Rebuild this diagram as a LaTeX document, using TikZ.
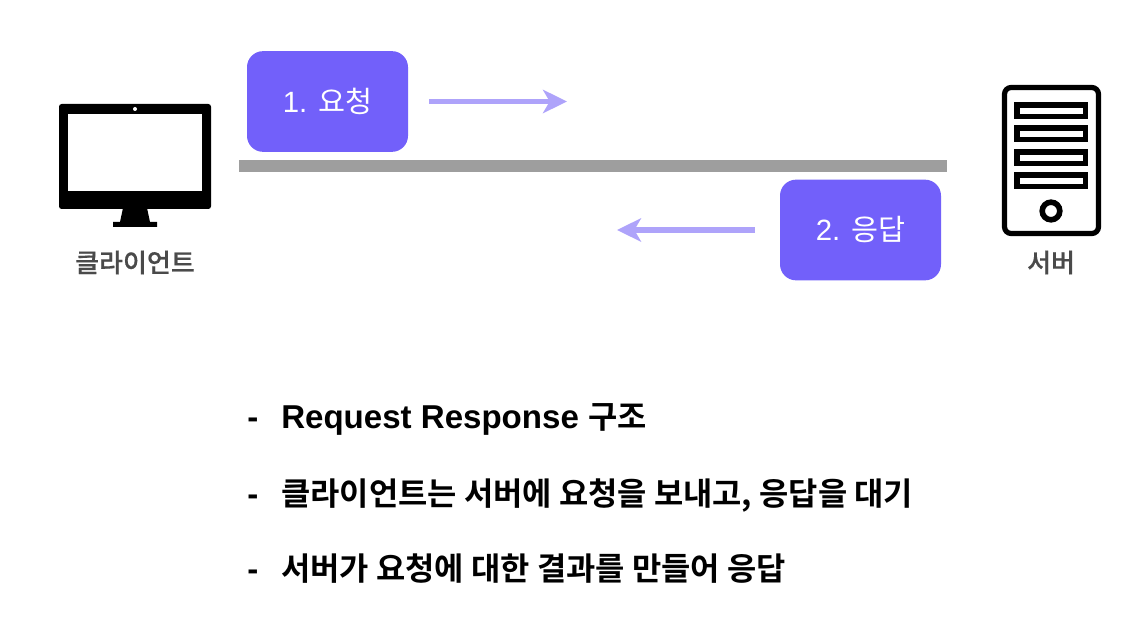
\documentclass[tikz,border=0pt]{standalone}
\usepackage{fontspec}
\setmainfont{Liberation Sans}
\newfontfamily\korfont{Noto Sans CJK KR}
\newfontfamily\korbold[Scale=0.962,BoldFont={Noto Sans CJK KR Bold}]{Noto Sans CJK KR}
\newfontfamily\kormedium[FakeBold=0.5]{Noto Sans CJK KR Medium}
\usetikzlibrary{arrows.meta}
\definecolor{boxviolet}{HTML}{7260FA}
\definecolor{arrowviolet}{HTML}{AEA3FA}
\definecolor{bargray}{HTML}{9E9E9E}
\definecolor{labelgray}{HTML}{4A4A4A}
\tikzset{
    stepbox/.style={rectangle, fill=boxviolet, rounded corners=12pt, minimum width=120.75pt, minimum height=75.5pt, text=white, font=\fontsize{22pt}{26pt}\selectfont},
    flowarrow/.style={-{Stealth[length=18pt,width=17.5pt,inset=5pt]}, line width=4.2pt, arrowviolet},
    devlabel/.style={text=labelgray, font=\fontsize{19.5pt}{23pt}\selectfont},
    bullettext/.style={anchor=base west, inner sep=0pt, font=\fontsize{24.8pt}{28pt}\selectfont\bfseries}
}

\begin{document}
\begin{tikzpicture}[x=0.75pt,y=-0.75pt]
        \useasboundingbox (0,0) rectangle (1148,630);
        % boxes
        \node[stepbox] (req) at (327.5,101.5) {1. {\korfont 요청}};
        \node[stepbox] (res) at (860.5,230) {2. {\korfont 응답}};
        \fill[bargray] (239,160) rectangle (947,172);
        % arrows
        \coordinate (reqtail) at (429,101.5);
        \coordinate (reqtip) at (567,101.5);
        \coordinate (restail) at (755,230);
        \coordinate (restip) at (617,230);
        \draw[flowarrow] (reqtail) -- (reqtip);
        \draw[flowarrow] (restail) -- (restip);
        % monitor
        \fill[black, rounded corners=2pt] (59,104) rectangle (211,209);
        \fill[white] (68,114) rectangle (202,191);
        \fill[white] (135,109) circle (2);
        \fill[black] (123,208) -- (147,208) -- (150,222) -- (157,222) -- (157,227) -- (113,227) -- (113,222) -- (120,222) -- cycle;
        \node[devlabel] (client) at (135,262.5) {\kormedium 클라이언트};
        % server
        \draw[black, line width=3.9pt, rounded corners=5pt] (1004.5,233.5) -- (1004.5,87.5) -- (1098.5,87.5) -- (1098.5,233.5) -- cycle;
        \foreach \y in {102,125.5,149,172.5} {
            \fill[black] (1014,\y) rectangle (1088,\y+17);
            \fill[white] (1020,\y+6) rectangle (1083,\y+12);
        }
        \draw[black, line width=4.2pt] (1051,211) circle (8.8);
        \node[devlabel] (server) at (1051,262.5) {\kormedium 서버};
        % list
        \node[bullettext] (dasha) at (247,428) {-};
        \node[bullettext] (linea) at (281,428) {Request Response {\korbold 구조}};
        \node[bullettext] (dashb) at (247,505.5) {-};
        \node[bullettext] (lineb) at (281,505.5) {\korbold 클라이언트는 서버에 요청을 보내고, 응답을 대기};
        \node[bullettext] (dashc) at (247,580) {-};
        \node[bullettext] (linec) at (281,580) {\korbold 서버가 요청에 대한 결과를 만들어 응답};
    \end{tikzpicture}
\end{document}
